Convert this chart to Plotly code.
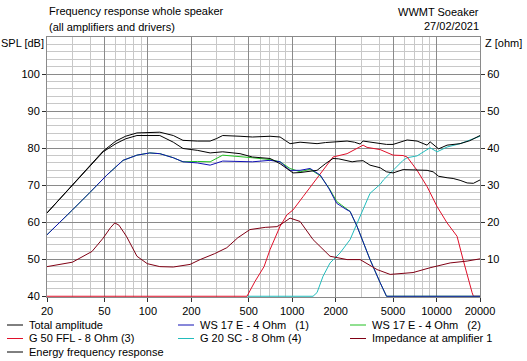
import numpy as np
import plotly.graph_objects as go

# ---------------- data ----------------
freq_total = [20, 30, 40, 49, 60, 70, 84, 103, 121, 150, 175, 220, 270, 300, 330, 435, 530, 702, 824, 900,
              966, 1133, 1300, 1486, 1700, 1918, 2399, 2700, 2953, 3097, 3500, 4063, 4500, 5000, 5600, 6254,
              7331, 8600, 9021, 9700, 10330, 11830, 14560, 17000, 20000]
spl_total = [62.5, 70.1, 75.5, 79.2, 81.9, 83.2, 84.1, 84.3, 84.3, 83.4, 82.1, 81.9, 81.9, 82.6, 83.4, 83.2,
             83.0, 83.2, 83.0, 82.0, 81.2, 81.6, 81.4, 81.2, 81.5, 81.7, 81.9, 81.6, 81.1, 81.9, 81.6, 81.4,
             81.0, 81.0, 81.6, 82.2, 81.9, 80.8, 81.7, 80.8, 79.8, 80.8, 81.2, 82.0, 83.4]

freq_energy = [20, 30, 40, 49, 60, 70, 84, 103, 121, 150, 175, 220, 270, 330, 435, 530, 702, 824, 900, 966,
               1013, 1133, 1268, 1486, 1700, 1918, 2100, 2399, 2600, 2812, 3097, 3461, 4063, 4500, 5000, 5863,
               6254, 7693, 8600, 9466, 10330, 11830, 13030, 14560, 16290, 18000, 20000]
spl_energy = [62.5, 70.1, 75.5, 79.0, 81.2, 82.5, 83.4, 83.4, 83.4, 81.6, 79.9, 79.4, 78.7, 79.0, 78.5, 77.6,
              77.2, 75.8, 74.8, 74.0, 73.3, 73.4, 73.6, 74.0, 75.8, 77.2, 77.1, 76.7, 76.3, 76.5, 76.6, 75.4,
              74.7, 73.6, 73.3, 74.2, 74.2, 74.0, 74.0, 73.6, 72.4, 72.0, 71.8, 71.3, 70.6, 70.5, 71.4]

freq_ws1 = [20, 25.3, 30, 39.6, 51.9, 67.3, 84, 103, 121, 150, 175, 220, 270, 330, 435, 530, 702, 824, 966,
            1133, 1330, 1566, 1800, 2033, 2399, 2517, 2812, 3100, 3461, 4063, 4500, 20000]
spl_ws1 = [56.6, 60.4, 63.3, 68.0, 72.7, 76.7, 78.1, 78.7, 78.5, 77.4, 76.3, 76.0, 75.4, 76.5, 76.4, 76.3,
           76.7, 76.3, 74.0, 74.0, 74.5, 72.7, 69.0, 65.1, 63.3, 62.9, 58.9, 54.5, 49.9, 43.7, 40.0, 40.0]

freq_ws2 = [20, 25.3, 30, 39.6, 51.9, 67.3, 84, 103, 121, 150, 175, 220, 270, 330, 435, 530, 702, 824, 966,
            1133, 1330, 1566, 1800, 2033, 2200, 2399, 2517, 2812, 3100, 3461, 4063, 4500, 20000]
spl_ws2 = [56.6, 60.4, 63.3, 68.0, 72.7, 76.7, 78.1, 78.7, 78.5, 77.4, 76.3, 76.4, 76.3, 78.1, 77.8, 77.4,
           76.9, 76.3, 74.5, 73.6, 74.3, 72.5, 69.2, 65.6, 64.6, 63.5, 62.9, 58.9, 54.5, 49.9, 43.7, 40.0, 40.0]

freq_g50 = [20, 486, 552, 638, 702, 824, 920, 1013, 1189, 1394, 1635, 1918, 2399, 2800, 3097, 3300, 3632,
            4063, 5000, 5863, 6254, 7331, 8600, 10090, 11830, 13870, 15270, 16550, 17630, 18000, 20000]
spl_g50 = [40, 40, 44, 48, 52.6, 58.9, 62.0, 63.3, 66.9, 70.5, 74.0, 77.6, 78.5, 79.8, 80.8, 80.2, 79.9,
           79.6, 78.1, 78.0, 77.6, 74.0, 69.6, 64.2, 59.8, 56.2, 49.9, 44.6, 41.0, 40, 40]

freq_g20 = [490, 1394, 1486, 1635, 1829, 2146, 2517, 2953, 3461, 4063, 4284, 5000, 5863, 6254, 7331, 9021,
            10090, 11830, 14560, 20000]
spl_g20 = [40, 40, 41, 45.4, 49.0, 51.7, 55.3, 61.5, 67.8, 70.2, 71.4, 74.0, 76.7, 77.4, 77.9, 80.1, 79.0,
           80.3, 81.2, 83.2]

freq_imp = [20, 30, 41, 49, 55, 59, 63, 71, 84, 99, 121, 150, 196, 230, 290, 352, 420, 509, 650, 784, 880,
            966, 1133, 1394, 1829, 2399, 2953, 3875, 4770, 6870, 9021, 12420, 16290, 20000]
z_imp = [8.0, 9.2, 12.1, 15.7, 18.5, 19.8, 19.2, 16.2, 10.8, 8.8, 8.0, 7.9, 8.6, 9.9, 11.5, 13.1, 15.8, 18.0,
         18.6, 18.8, 20.0, 21.1, 20.2, 15.3, 10.8, 9.9, 9.9, 7.2, 5.9, 6.4, 7.7, 9.0, 9.5, 10.1]

x_ticks = [20, 50, 100, 200, 500, 1000, 2000, 5000, 10000, 20000]
x_tick_labels = ["20", "50", "100", "200", "500", "1000", "2000", "5000", "10000", "20000"]
x_minor = [30, 40, 60, 70, 80, 90, 300, 400, 600, 700, 800, 900, 3000, 4000, 6000, 7000, 8000, 9000]
spl_ticks = [40, 50, 60, 70, 80, 90, 100]
z_ticks = [10, 20, 30, 40, 50, 60]

series_names = ["Total amplitude", "WS 17 E - 4 Ohm\u00a0\u00a0\u00a0(1)", "WS 17 E - 4 Ohm\u00a0\u00a0\u00a0(2)",
                "G 50 FFL - 8 Ohm (3)", "G 20 SC - 8 Ohm (4)", "Impedance at amplifier 1",
                "Energy frequency response"]

# ---------------- style ----------------
C_BLACK = "#000000"
C_BLUE = "#1010b4"
C_GREEN = "#22c022"
C_RED = "#e0102a"
C_CYAN = "#22bcbc"
C_MAROON = "#800014"
colors = [C_BLACK, C_BLUE, C_GREEN, C_RED, C_CYAN, C_MAROON, C_BLACK]

W, H = 527, 361
L, R, T, B = 47, 47, 37, 64
FONT = "Liberation Sans, Arial, sans-serif"


def px(xp):
    return (xp - L) / (W - L - R)


def py(yp):
    return (H - B - yp) / (H - T - B)


fig = go.Figure()


def add(f, v, name, color, yaxis="y"):
    fig.add_trace(go.Scatter(x=f, y=v, name=name, mode="lines", yaxis=yaxis,
                             line=dict(color=color, width=1), showlegend=False, hoverinfo="skip"))


add(freq_imp, z_imp, series_names[5], C_MAROON, "y2")
add(freq_g20, spl_g20, series_names[4], C_CYAN)
add(freq_g50, spl_g50, series_names[3], C_RED)
add(freq_ws2, spl_ws2, series_names[2], C_GREEN)
add(freq_ws1, spl_ws1, series_names[1], C_BLUE)
add(freq_energy, spl_energy, series_names[6], C_BLACK)
add(freq_total, spl_total, series_names[0], C_BLACK)

fig.update_layout(
    width=W, height=H, margin=dict(l=L, r=R, t=T, b=B),
    paper_bgcolor="white", plot_bgcolor="white",
    font=dict(family=FONT, size=11, color="black"),
    showlegend=False,
    xaxis=dict(type="log", range=[np.log10(20), np.log10(20000)], tickmode="array",
               tickvals=x_ticks, ticktext=x_tick_labels, showgrid=True, gridcolor="#8a8a8a",
               ticks="outside", ticklen=4, tickcolor="#303030", showline=True, linecolor="#8a8a8a",
               mirror=True, zeroline=False,
               minor=dict(tickmode="array", tickvals=x_minor, showgrid=True, gridcolor="#c8c8c8", ticks="")),
    yaxis=dict(range=[39.8, 110], tickmode="array", tickvals=spl_ticks, showgrid=True, gridcolor="#8a8a8a",
               ticks="outside", ticklen=4, tickcolor="#303030", showline=True, linecolor="#8a8a8a",
               mirror=True, zeroline=False,
               minor=dict(tick0=40, dtick=2, showgrid=True, gridcolor="#c8c8c8", ticks="")),
    yaxis2=dict(overlaying="y", side="right", range=[-0.2, 70], tickmode="array", tickvals=z_ticks,
                showgrid=False, ticks="outside", ticklen=4, tickcolor="#303030", zeroline=False,
                showline=False),
)

ann = []


def text(x, y, s, anchor="left"):
    ann.append(dict(x=px(x), y=py(y), xref="paper", yref="paper", text=s, showarrow=False,
                    xanchor=anchor, yanchor="middle", font=dict(family=FONT, size=11, color="black")))


text(47, 11, "Frequency response whole speaker")
text(47, 27, "(all amplifiers and drivers)")
text(481, 12, "WWMT Soeaker", "right")
text(481, 26, "27/02/2021", "right")
text(-1, 43, "SPL [dB]")
text(483, 43, "Z [ohm]")

# custom legend (3 columns)
col_line_x = [7, 178, 350]
row_y = [325, 338.5, 352]
shapes = []
for i, (name, c) in enumerate(zip(series_names, colors)):
    r, col = divmod(i, 3)
    x0 = col_line_x[col]
    y0 = row_y[r]
    shapes.append(dict(type="line", xref="paper", yref="paper", x0=px(x0), x1=px(x0 + 16),
                       y0=py(y0), y1=py(y0), line=dict(color=c, width=1)))
    text(x0 + 20, y0, name)

fig.update_layout(annotations=ann, shapes=shapes)
fig.write_html("out.html", config={"displayModeBar": False, "staticPlot": True},
               post_script="document.body.style.margin='0';document.body.style.overflow='hidden';")
